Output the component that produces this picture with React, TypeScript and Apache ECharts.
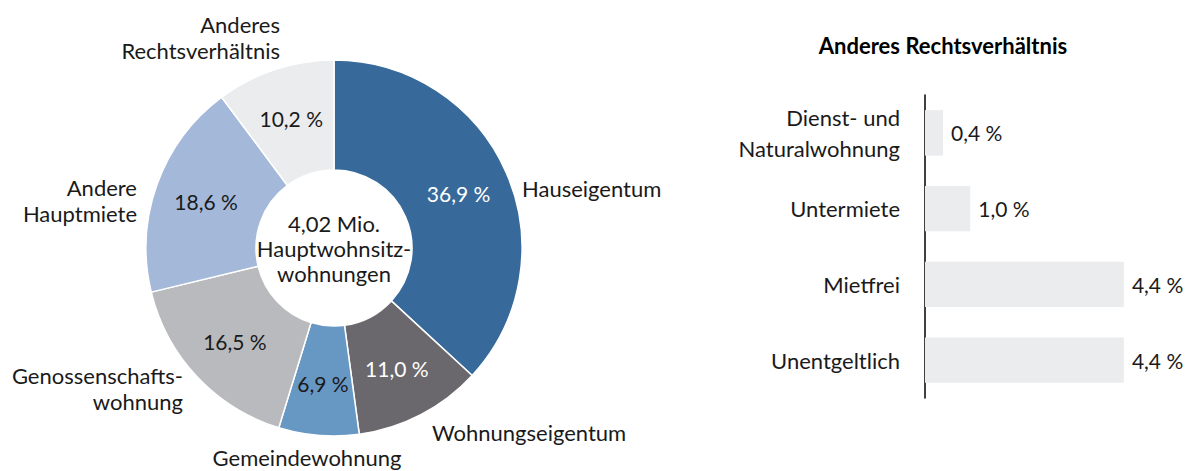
import React, { useEffect, useRef } from "react";
import * as echarts from "echarts";

const pieNames = [
  "Hauseigentum",
  "Wohnungseigentum",
  "Gemeindewohnung",
  "Genossenschafts-\nwohnung",
  "Andere\nHauptmiete",
  "Anderes\nRechtsverhältnis",
];
const pieValues = [36.9, 11.0, 6.9, 16.5, 18.6, 10.2];
const pieColors = ["#376a9b", "#6a686c", "#6798c4", "#b9babd", "#a4b9da", "#ebecee"];
const pieLabelColors = ["#ffffff", "#ffffff", "#1a1a1a", "#1a1a1a", "#1a1a1a", "#1a1a1a"];

const centerText = "4,02 Mio.\nHauptwohnsitz-\nwohnungen";

const barTitle = "Anderes Rechtsverhältnis";
const barCategories = ["Dienst- und\nNaturalwohnung", "Untermiete", "Mietfrei", "Unentgeltlich"];
const barValues = [0.4, 1.0, 4.4, 4.4];

const FONT = "Lato, 'Noto Sans', sans-serif";
const NAME_SIZE = 22;
const NUM_SIZE = 21;
const fmt = (v: number) => v.toFixed(1).replace(".", ",") + " %";

// outer name label placements (text anchors)
const namePlacement = [
  { x: 522, y: 188, align: "left" },
  { x: 432, y: 432, align: "left" },
  { x: 307, y: 457, align: "center" },
  { x: 183, y: 388, align: "right" },
  { x: 137, y: 200, align: "right" },
  { x: 280, y: 37, align: "right" },
];

export default function App() {
  const ref = useRef<HTMLDivElement>(null);
  useEffect(() => {
    if (!ref.current) return;
    const chart = echarts.init(ref.current, null, { renderer: "svg" });
    chart.setOption({
      animation: false,
      backgroundColor: "#ffffff",
      textStyle: { fontFamily: FONT },
      title: {
        text: barTitle,
        left: 938,
        top: 29,
        textAlign: "center",
        textStyle: { fontFamily: FONT, fontSize: 22, fontWeight: "bold", color: "#000" },
      },
      grid: { left: 925, top: 95, width: 226, height: 303 },
      xAxis: {
        type: "value",
        min: 0,
        max: 5,
        show: false,
      },
      yAxis: {
        type: "category",
        inverse: true,
        data: barCategories,
        axisLine: { show: true, lineStyle: { color: "#000", width: 1.5 } },
        axisTick: { show: false },
        axisLabel: {
          margin: 25,
          fontFamily: FONT,
          fontSize: NAME_SIZE,
          color: "#1a1a1a",
          lineHeight: 31,
          align: "right",
        },
      },
      series: [
        {
          type: "bar",
          data: barValues,
          barCategoryGap: "40%",
          itemStyle: { color: "#ebecee" },
          label: {
            show: true,
            position: "right",
            distance: 8,
            fontFamily: FONT,
            fontSize: NUM_SIZE,
            color: "#1a1a1a",
            formatter: (p: any) => fmt(p.value),
          },
        },
        {
          type: "pie",
          center: [334, 248],
          radius: [78, 188],
          startAngle: 90,
          clockwise: true,
          data: pieValues.map((v, i) => ({
            name: pieNames[i],
            value: v,
            itemStyle: { color: pieColors[i] },
            label: { color: pieLabelColors[i] },
          })),
          itemStyle: { borderColor: "#ffffff", borderWidth: 1.5 },
          label: {
            show: true,
            position: "inside",
            fontFamily: FONT,
            fontSize: NUM_SIZE,
            formatter: (p: any) => fmt(p.value),
          },
          labelLine: { show: false },
          emphasis: { disabled: true },
        },
      ],
      graphic: [
        {
          type: "text",
          x: 334,
          y: 248,
          style: {
            text: centerText,
            fontFamily: FONT,
            fontSize: NAME_SIZE,
            lineHeight: 25,
            fill: "#1a1a1a",
            align: "center",
            verticalAlign: "middle",
          },
        },
        ...pieNames.map((n, i) => ({
          type: "text",
          x: namePlacement[i].x,
          y: namePlacement[i].y,
          style: {
            text: n,
            fontFamily: FONT,
            fontSize: NAME_SIZE,
            lineHeight: 26,
            fill: "#1a1a1a",
            align: namePlacement[i].align,
            verticalAlign: "middle",
          },
        })),
      ],
    });
    return () => chart.dispose();
  }, []);
  return (
    <div
      ref={ref}
      style={{ position: "fixed", left: 0, top: 0, width: 1189, height: 471 }}
    />
  );
}
